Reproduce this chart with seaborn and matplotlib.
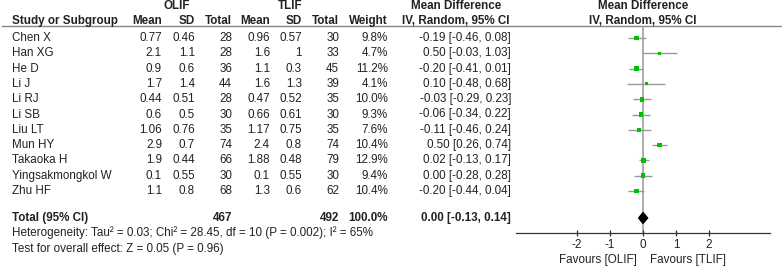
import numpy as np
import pandas as pd
import matplotlib
matplotlib.use("Agg")
import matplotlib.pyplot as plt
import seaborn as sns

# data
studies = ["Chen X", "Han XG", "He D", "Li J", "Li RJ", "Li SB", "Liu LT",
           "Mun HY", "Takaoka H", "Yingsakmongkol W", "Zhu HF"]
olif_mean = ["0.77", "2.1", "0.9", "1.7", "0.44", "0.6", "1.06", "2.9", "1.9", "0.1", "1.1"]
olif_sd = ["0.46", "1.1", "0.6", "1.4", "0.51", "0.5", "0.76", "0.7", "0.44", "0.55", "0.8"]
olif_n = [28, 28, 36, 44, 28, 30, 35, 74, 66, 30, 68]
tlif_mean = ["0.96", "1.6", "1.1", "1.6", "0.47", "0.66", "1.17", "2.4", "1.88", "0.1", "1.3"]
tlif_sd = ["0.57", "1", "0.3", "1.3", "0.52", "0.61", "0.75", "0.8", "0.48", "0.55", "0.6"]
tlif_n = [30, 33, 45, 39, 35, 30, 35, 74, 79, 30, 62]
weight = [9.8, 4.7, 11.2, 4.1, 10.0, 9.3, 7.6, 10.4, 12.9, 9.4, 10.4]
md = [-0.19, 0.50, -0.20, 0.10, -0.03, -0.06, -0.11, 0.50, 0.02, 0.00, -0.20]
lo = [-0.46, -0.03, -0.41, -0.48, -0.29, -0.34, -0.46, 0.26, -0.13, -0.28, -0.44]
hi = [0.08, 1.03, 0.01, 0.68, 0.23, 0.22, 0.24, 0.74, 0.17, 0.28, 0.04]
total_md, total_lo, total_hi = 0.00, -0.13, 0.14
ticks = [-2, -1, 0, 1, 2]

plt.rcParams['font.family'] = ['Liberation Sans', 'DejaVu Sans']
fs = 8.4

fig = plt.figure(figsize=(7.82, 2.68), dpi=100)
# text layer in pixel coordinates
ax = fig.add_axes([0, 0, 1, 1])
ax.set_xlim(0, 782)
ax.set_ylim(268, 0)
ax.axis("off")

row_y = 38 + 15.3 * np.arange(len(studies))
total_y = 218

# headers
ax.text(177, 6, "OLIF", ha="center", va="center", fontsize=fs, weight="bold", color="#222")
ax.text(290, 6, "TLIF", ha="center", va="center", fontsize=fs, weight="bold", color="#222")
ax.text(456, 6, "Mean Difference", ha="center", va="center", fontsize=fs, weight="bold", color="#222")
ax.text(643, 6, "Mean Difference", ha="center", va="center", fontsize=fs, weight="bold", color="#222")
hdr = [("Study or Subgroup", 12, "left"), ("Mean", 162, "right"), ("SD", 195, "right"),
       ("Total", 232, "right"), ("Mean", 270, "right"), ("SD", 302, "right"),
       ("Total", 339, "right"), ("Weight", 388, "right"),
       ("IV, Random, 95% CI", 456, "center"), ("IV, Random, 95% CI", 643, "center")]
for t, x, ha in hdr:
    ax.text(x, 21, t, ha=ha, va="center", fontsize=fs, weight="bold", color="#222")
ax.plot([2, 782], [26, 26], color="#888", lw=1)

cols = [(olif_mean, 162), (olif_sd, 195), (olif_n, 232), (tlif_mean, 270),
        (tlif_sd, 302), (tlif_n, 339)]
for i, s in enumerate(studies):
    y = row_y[i]
    ax.text(12, y, s, ha="left", va="center", fontsize=fs, color="#222")
    for vals, x in cols:
        ax.text(x, y, str(vals[i]), ha="right", va="center", fontsize=fs, color="#222")
    ax.text(388, y, f"{weight[i]:.1f}%", ha="right", va="center", fontsize=fs, color="#222")
    ax.text(511, y, f"{md[i]:.2f} [{lo[i]:.2f}, {hi[i]:.2f}]", ha="right", va="center",
            fontsize=fs, color="#222")

ax.text(12, total_y, "Total (95% CI)", ha="left", va="center", fontsize=fs, weight="bold", color="#222")
ax.text(232, total_y, str(sum(olif_n)), ha="right", va="center", fontsize=fs, weight="bold", color="#222")
ax.text(339, total_y, str(sum(tlif_n)), ha="right", va="center", fontsize=fs, weight="bold", color="#222")
ax.text(388, total_y, "100.0%", ha="right", va="center", fontsize=fs, weight="bold", color="#222")
ax.text(511, total_y, f"{total_md:.2f} [{total_lo:.2f}, {total_hi:.2f}]", ha="right", va="center",
        fontsize=fs, weight="bold", color="#222")
ax.text(12, 233, "Heterogeneity: Tau² = 0.03; Chi² = 28.45, df = 10 (P = 0.002); I² = 65%",
        ha="left", va="center", fontsize=fs, color="#222")
ax.text(12, 249, "Test for overall effect: Z = 0.05 (P = 0.96)",
        ha="left", va="center", fontsize=fs, color="#222")

# forest plot axes: x in data units, y in pixel units
fx0, fx1, fy0, fy1 = 516, 770, 26, 233
fax = fig.add_axes([fx0 / 782, 1 - fy1 / 268, (fx1 - fx0) / 782, (fy1 - fy0) / 268])
fax.set_xlim(-3.85, 3.85)
fax.set_ylim(fy1, fy0)
fax.patch.set_alpha(0)
for sp in ["top", "left", "right"]:
    fax.spines[sp].set_visible(False)
fax.spines["bottom"].set_color("#333")
fax.spines["bottom"].set_linewidth(0.9)
fax.set_yticks([])
fax.set_xticks(ticks)
fax.set_xticklabels([str(t) for t in ticks], fontsize=fs, color="#222")
fax.tick_params(axis="x", direction="inout", length=5, width=0.9, color="#333", pad=2)

fax.axvline(0, color="#a0a0a0", lw=1.2, zorder=1)
fax.hlines(row_y, lo, hi, color="#999", lw=1, zorder=2)

df = pd.DataFrame({"md": md, "y": row_y, "weight": weight})
sns.scatterplot(data=df, x="md", y="y", size="weight", sizes=(4.1 * 1.1, 12.9 * 1.1),
                size_norm=(4.1, 12.9), marker="s", color="#00c000", edgecolor="none",
                legend=False, ax=fax, zorder=3)
fax.set_xlabel("")
fax.set_ylabel("")

dia_x = [total_lo, total_md, total_hi, total_md, total_lo]
dia_y = [total_y, total_y - 5.5, total_y, total_y + 5.5, total_y]
fax.fill(dia_x, dia_y, color="black", zorder=4)

ax.text(637, 260, "Favours [OLIF]", ha="right", va="center", fontsize=fs, color="#222")
ax.text(650, 260, "Favours [TLIF]", ha="left", va="center", fontsize=fs, color="#222")

fig.savefig("out.png", dpi=100)
